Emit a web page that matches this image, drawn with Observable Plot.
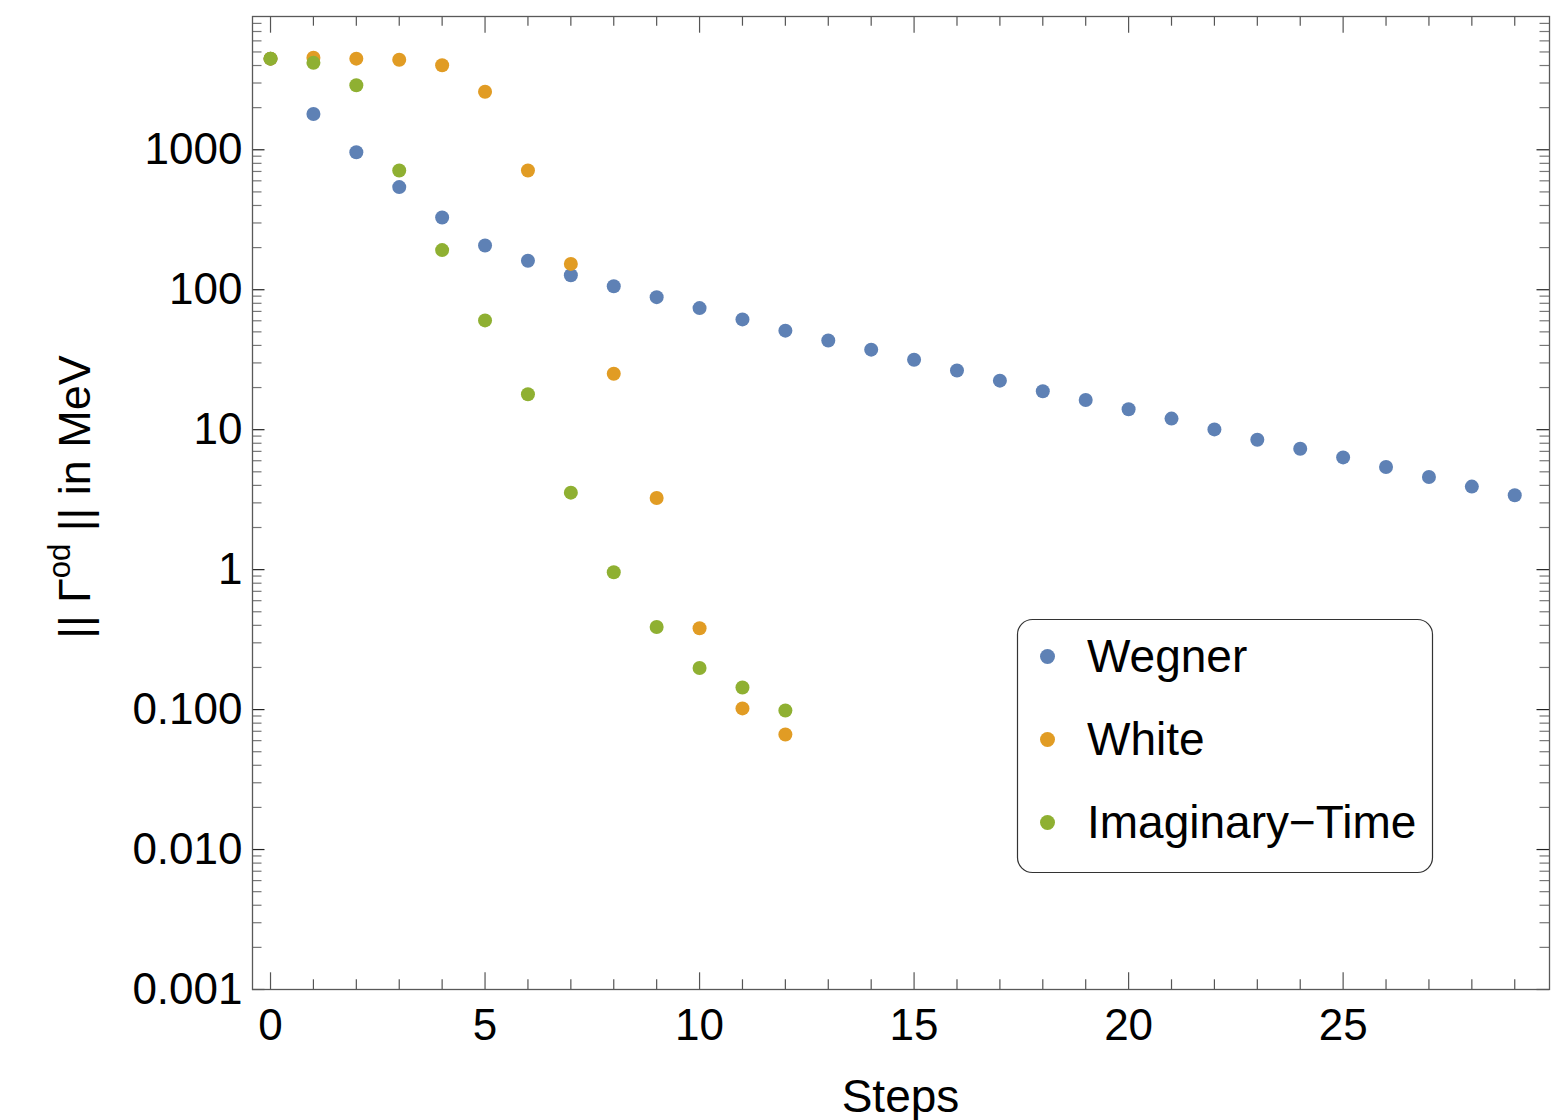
<!DOCTYPE html>
<html>
<head>
<meta charset="utf-8">
<script src="https://cdn.jsdelivr.net/npm/d3@7"></script>
<script src="https://cdn.jsdelivr.net/npm/@observablehq/plot@0.6"></script>
<style>
  html, body { margin: 0; padding: 0; background: #fff; }
  #chart { width: 1562px; height: 1120px; overflow: hidden; }
</style>
</head>
<body>
<div id="chart"></div>
<script>
// ---------- data ----------
const seriesNames = ["Wegner", "White", "Imaginary\u2212Time"];
const seriesColors = ["#5E81B5", "#E19C24", "#8FB032"];

const wegnerSteps = [0, 1, 2, 3, 4, 5, 6, 7, 8, 9, 10, 11, 12, 13, 14, 15, 16, 17, 18, 19, 20, 21, 22, 23, 24, 25, 26, 27, 28, 29];
const wegnerValues = [4480, 1800, 961, 541, 328, 207, 161, 127, 106, 88.5, 73.9, 61.4, 51.0, 43.4, 37.3, 31.6, 26.5, 22.4, 18.8, 16.3, 14.0, 12.0, 10.05, 8.48, 7.31, 6.34, 5.41, 4.59, 3.92, 3.40];

const whiteSteps = [0, 1, 2, 3, 4, 5, 6, 7, 8, 9, 10, 11, 12];
const whiteValues = [4480, 4540, 4480, 4395, 4020, 2596, 711, 153, 25.1, 3.25, 0.381, 0.102, 0.0663];

const imagSteps = [0, 1, 2, 3, 4, 5, 6, 7, 8, 9, 10, 11, 12];
const imagValues = [4480, 4180, 2893, 711, 192, 60.4, 17.9, 3.55, 0.957, 0.389, 0.198, 0.144, 0.0984];

const xMajorTicks = [0, 5, 10, 15, 20, 25];
const xMinorTicks = [1, 2, 3, 4, 6, 7, 8, 9, 11, 12, 13, 14, 16, 17, 18, 19, 21, 22, 23, 24, 26, 27, 28, 29];
const yMajorTicks = [0.001, 0.01, 0.1, 1, 10, 100, 1000];
const yTickLabels = ["0.001", "0.010", "0.100", "1", "10", "100", "1000"];
const yMinorMultipliers = [2, 3, 4, 5, 6, 7, 8, 9];

const xLabel = "Steps";

// ---------- build table ----------
const stepLists = [wegnerSteps, whiteSteps, imagSteps];
const valueLists = [wegnerValues, whiteValues, imagValues];
const rows = [];
seriesNames.forEach((name, i) => {
  stepLists[i].forEach((s, j) => rows.push({series: name, step: s, value: valueLists[i][j]}));
});

// ---------- layout ----------
const W = 1562, H = 1120;
const mL = 252, mR = 13, mT = 16, mB = 131;
const fw = W - mL - mR, fh = H - mT - mB;
const yTop = 8960;
const yMinorTicks = [];
yMajorTicks.forEach(d => yMinorMultipliers.forEach(m => { const v = d * m; if (v < yTop) yMinorTicks.push(v); }));

const tickColor = "#555";
const minorColor = "#777";
const xMajLen = 16.7, xMinLen = 9.7, yMajLen = 12.5, yMinLen = 9.5;
const font = "'Liberation Sans', Arial, Helvetica, sans-serif";

const plot = Plot.plot({
  width: W,
  height: H,
  marginLeft: mL,
  marginRight: mR,
  marginTop: mT,
  marginBottom: mB,
  style: {fontFamily: font, fontSize: "44px", color: "#000", background: "#fff"},
  x: {domain: [-0.42, 29.81]},
  y: {type: "log", domain: [0.001, yTop]},
  color: {domain: seriesNames, range: seriesColors},
  marks: [
    // x ticks bottom / top
    Plot.ruleX(xMajorTicks, {x: d => d, insetTop: fh - xMajLen, stroke: tickColor, strokeWidth: 1.2}),
    Plot.ruleX(xMinorTicks, {x: d => d, insetTop: fh - xMinLen, stroke: tickColor, strokeWidth: 1.2}),
    Plot.ruleX(xMajorTicks, {x: d => d, insetBottom: fh - xMajLen, stroke: tickColor, strokeWidth: 1.2}),
    Plot.ruleX(xMinorTicks, {x: d => d, insetBottom: fh - xMinLen, stroke: tickColor, strokeWidth: 1.2}),
    // y ticks left / right
    Plot.ruleY(yMajorTicks, {y: d => d, insetRight: fw - yMajLen, stroke: "#222", strokeWidth: 1.2}),
    Plot.ruleY(yMinorTicks, {y: d => d, insetRight: fw - yMinLen, stroke: minorColor, strokeWidth: 1.2}),
    Plot.ruleY(yMajorTicks, {y: d => d, insetLeft: fw - yMajLen, stroke: "#222", strokeWidth: 1.2}),
    Plot.ruleY(yMinorTicks, {y: d => d, insetLeft: fw - yMinLen, stroke: minorColor, strokeWidth: 1.2}),
    Plot.frame({stroke: "#595959", strokeWidth: 1.3}),
    Plot.axisX({ticks: xMajorTicks, tickSize: 0, tickPadding: 19, label: null, fontSize: 44, tickFormat: d => String(d)}),
    Plot.axisY({ticks: yMajorTicks, tickSize: 0, tickPadding: 10, label: null, fontSize: 44,
                tickFormat: d => yTickLabels[yMajorTicks.indexOf(d)]}),
    Plot.dot(rows, {x: "step", y: "value", fill: "series", r: 7, stroke: null})
  ]
});

document.getElementById("chart").appendChild(plot);

// ---------- axis labels & legend ----------
const svg = d3.select(plot);

svg.append("text")
  .attr("x", mL + fw / 2)
  .attr("y", 1112)
  .attr("text-anchor", "middle")
  .attr("font-family", font)
  .attr("font-size", 46)
  .attr("fill", "#000")
  .text(xLabel);

const yl = svg.append("text")
  .attr("transform", "translate(90,497) rotate(-90)")
  .attr("text-anchor", "middle")
  .attr("font-family", font)
  .attr("font-size", 45)
  .attr("fill", "#000");
yl.append("tspan").text("|| \u0393");
yl.append("tspan").attr("font-size", 31).attr("dy", -20).text("od");
yl.append("tspan").attr("dy", 20).text(" || in MeV");

const lg = svg.append("g").attr("text-anchor", "start");
lg.append("rect")
  .attr("x", 1017.5).attr("y", 619.5)
  .attr("width", 415).attr("height", 253)
  .attr("rx", 15).attr("ry", 15)
  .attr("fill", "#fff").attr("stroke", "#333").attr("stroke-width", 1.2);
const legendBaselines = [672, 755, 838];
const legendDotY = [656.5, 739.5, 822.5];
seriesNames.forEach((name, i) => {
  lg.append("circle").attr("cx", 1047.5).attr("cy", legendDotY[i]).attr("r", 7.5).attr("fill", seriesColors[i]);
  lg.append("text")
    .attr("x", 1087).attr("y", legendBaselines[i])
    .attr("text-anchor", "start")
    .attr("font-family", font).attr("font-size", 46).attr("fill", "#000")
    .text(name);
});
</script>
</body>
</html>
